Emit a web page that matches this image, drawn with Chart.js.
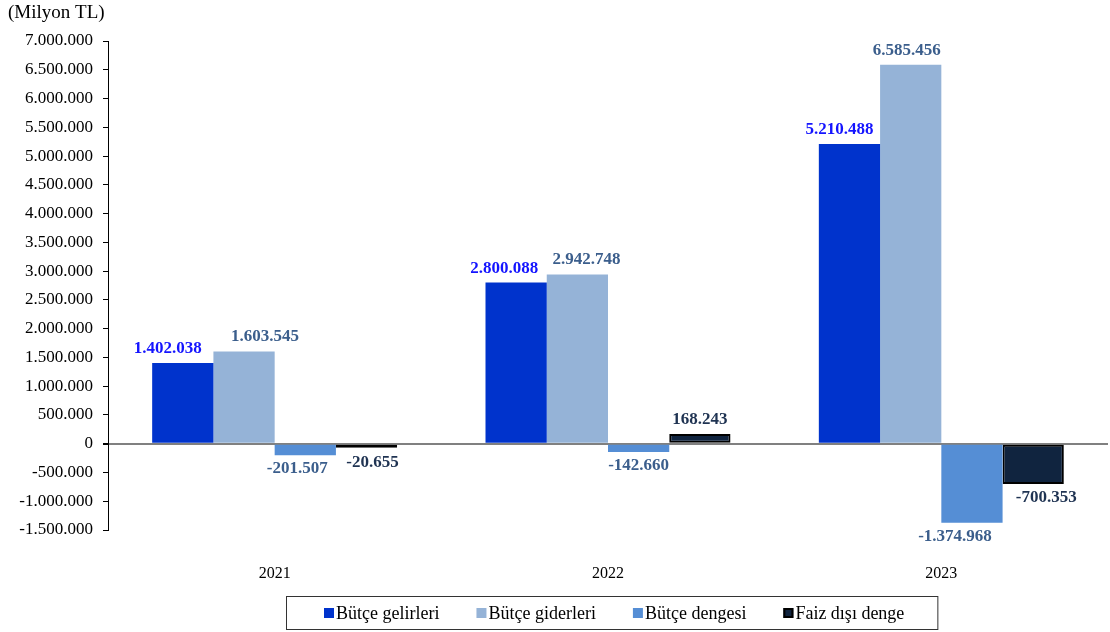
<!DOCTYPE html>
<html>
<head>
<meta charset="utf-8">
<script src="https://cdn.jsdelivr.net/npm/chart.js@4"></script>
<style>
  html, body { margin: 0; padding: 0; background: #fff; }
  #wrap { width: 1110px; height: 632px; position: relative; }
</style>
</head>
<body>
<div id="wrap"><canvas id="budgetChart" width="1110" height="632"></canvas></div>
<script>
// Chart data (Milyon TL)
const years = ['2021', '2022', '2023'];
const gelirler = [1402038, 2800088, 5210488];
const giderler = [1603545, 2942748, 6585456];
const dengesi = [-201507, -142660, -1374968];
const faizDisi = [-20655, 168243, -700353];
const seriesNames = ['Bütçe gelirleri', 'Bütçe giderleri', 'Bütçe dengesi', 'Faiz dışı denge'];

const SERIF = "'Liberation Serif', 'Times New Roman', serif";

// Turkish style thousands separator
function fmt(v) {
    const s = Math.abs(v).toString().replace(/\B(?=(\d{3})+(?!\d))/g, '.');
    return (v < 0 ? '-' : '') + s;
}

// Draw value labels above / below bars, plus the unit caption
const valueLabels = {
    id: 'valueLabels',
    afterDatasetsDraw(chart, args, opts) {
        const ctx = chart.ctx;
        ctx.save();
        ctx.font = 'bold 17px ' + SERIF;
        ctx.textAlign = 'center';
        chart.data.datasets.forEach((ds, i) => {
            const meta = chart.getDatasetMeta(i);
            meta.data.forEach((bar, j) => {
                const v = ds.data[j];
                const dx = (opts.shift[i] || [])[j] || 0;
                ctx.fillStyle = ds.labelColor;
                if (v >= 0) {
                    ctx.textBaseline = 'bottom';
                    ctx.fillText(fmt(v), bar.x + dx, bar.y - 6);
                } else {
                    ctx.textBaseline = 'top';
                    ctx.fillText(fmt(v), bar.x + dx, Math.max(bar.y, bar.base + 4) + 5);
                }
            });
        });
        ctx.font = '19px ' + SERIF;
        ctx.fillStyle = '#000';
        ctx.textAlign = 'left';
        ctx.textBaseline = 'top';
        ctx.fillText('(Milyon TL)', 8, 4);
        ctx.restore();
    }
};

// Framed legend below the category labels
const boxLegend = {
    id: 'boxLegend',
    afterDraw(chart) {
        const ctx = chart.ctx;
        const area = chart.chartArea;
        ctx.save();
        ctx.font = '18px ' + SERIF;
        ctx.textBaseline = 'middle';
        ctx.textAlign = 'left';
        const sq = 10, gapText = 2, gapItem = 37, padL = 38, padR = 33;
        const items = chart.data.datasets.map(ds => ({
            ds, w: sq + gapText + ctx.measureText(ds.label).width
        }));
        const total = items.reduce((a, it) => a + it.w, 0) + gapItem * (items.length - 1);
        const cx = (area.left + area.right) / 2 + 6;
        let x = Math.round(cx - total / 2);
        const y = 613;
        ctx.strokeStyle = '#333';
        ctx.lineWidth = 1;
        ctx.strokeRect(x - padL + 0.5, 596.5, total + padL + padR, 33);
        items.forEach(it => {
            ctx.fillStyle = it.ds.backgroundColor;
            ctx.fillRect(x, y - 5, sq, sq);
            if (it.ds.borderWidth) {
                ctx.strokeStyle = '#000';
                ctx.lineWidth = 2;
                ctx.strokeRect(x + 1, y - 4, sq - 2, sq - 2);
            }
            ctx.fillStyle = '#000';
            ctx.fillText(it.ds.label, x + sq + gapText, y + 1);
            x += it.w + gapItem;
        });
        ctx.restore();
    }
};

const ctx = document.getElementById('budgetChart').getContext('2d');
new Chart(ctx, {
    type: 'bar',
    data: {
        labels: years,
        datasets: [
            { label: seriesNames[0], data: gelirler, backgroundColor: '#0033CC', labelColor: '#1414FF', borderWidth: 0 },
            { label: seriesNames[1], data: giderler, backgroundColor: '#95B3D7', labelColor: '#3B5E8C', borderWidth: 0 },
            { label: seriesNames[2], data: dengesi, backgroundColor: '#558ED5', labelColor: '#3B5E8C', borderWidth: 0 },
            { label: seriesNames[3], data: faizDisi, backgroundColor: '#10243F', borderColor: '#000000', borderWidth: 2, minBarLength: 4, labelColor: '#1F3352' }
        ]
    },
    options: {
        responsive: false,
        animation: false,
        devicePixelRatio: 1,
        layout: { padding: { top: 41, right: 2, bottom: 0, left: 0 } },
        datasets: {
            bar: { categoryPercentage: 0.735, barPercentage: 1.0, borderSkipped: false }
        },
        plugins: {
            legend: { display: false },
            tooltip: { enabled: false },
            valueLabels: {
                shift: [[-15, -12, -10], [21, 9, -4], [-8, 0, -17], [6, 0, 13]]
            }
        },
        scales: {
            x: {
                grid: { display: false },
                border: { display: false },
                ticks: { font: { family: SERIF, size: 16 }, color: '#000', padding: 26 },
                afterFit(scale) { scale.height = 102; }
            },
            y: {
                min: -1500000,
                max: 7000000,
                ticks: {
                    stepSize: 500000,
                    font: { family: SERIF, size: 17 },
                    color: '#000',
                    padding: 10,
                    callback: v => fmt(v)
                },
                grid: {
                    drawOnChartArea: true,
                    color: c => (c.tick && c.tick.value === 0) ? '#808080' : 'rgba(0,0,0,0)',
                    lineWidth: c => (c.tick && c.tick.value === 0) ? 2 : 1,
                    tickColor: '#000',
                    tickLength: 5
                },
                border: { display: true, color: '#000', width: 1 },
                afterFit(scale) { scale.width = 108; }
            }
        }
    },
    plugins: [valueLabels, boxLegend]
});
</script>
</body>
</html>
